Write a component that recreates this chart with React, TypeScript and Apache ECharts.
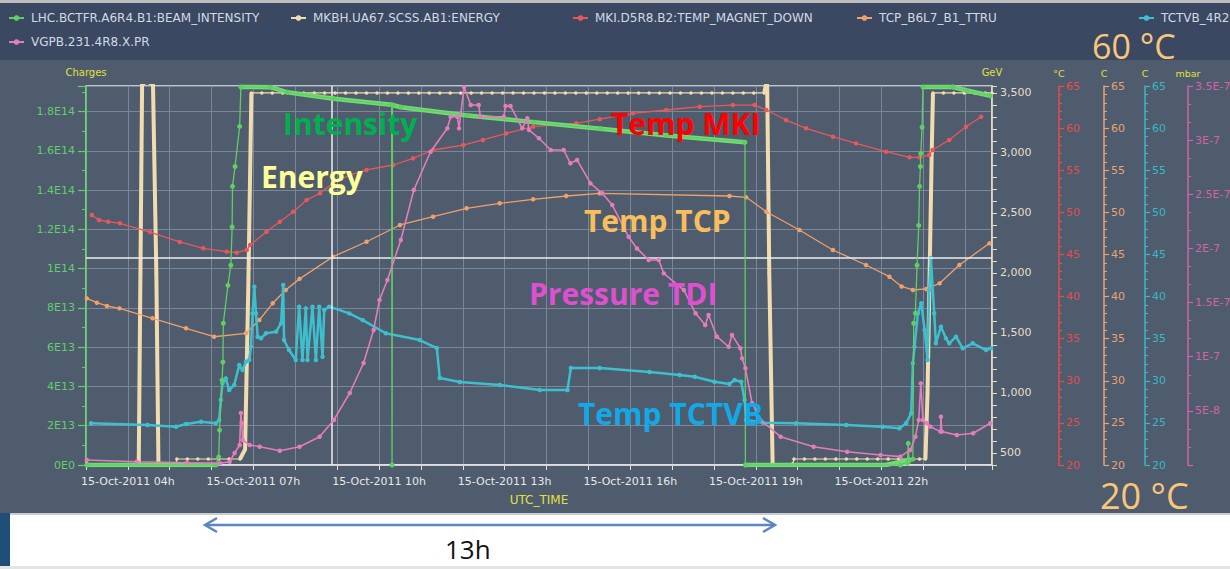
import React, { useEffect, useRef } from 'react';
import * as echarts from 'echarts';

// ---------- tick labels ----------
const timeTickHours = [4, 7, 10, 13, 16, 19, 22];
const timeTickLabels = ['15-Oct-2011 04h', '15-Oct-2011 07h', '15-Oct-2011 10h', '15-Oct-2011 13h', '15-Oct-2011 16h', '15-Oct-2011 19h', '15-Oct-2011 22h'];
const chargeTickLabels = ['0E0', '2E13', '4E13', '6E13', '8E13', '1E14', '1.2E14', '1.4E14', '1.6E14', '1.8E14'];
const energyTickLabels = ['500', '1,000', '1,500', '2,000', '2,500', '3,000', '3,500'];
const tempTickLabels = ['20', '25', '30', '35', '40', '45', '50', '55', '60', '65'];
const pressureTickLabels = ['', '5E-8', '1E-7', '1.5E-7', '2E-7', '2.5E-7', '3E-7', '3.5E-7'];

// ---------- series names ----------
const nameIntensity = 'LHC.BCTFR.A6R4.B1:BEAM_INTENSITY';
const nameEnergy = 'MKBH.UA67.SCSS.AB1:ENERGY';
const nameMki = 'MKI.D5R8.B2:TEMP_MAGNET_DOWN';
const nameTcp = 'TCP_B6L7_B1_TTRU';
const nameTctvb = 'TCTVB_4R2';
const namePressure = 'VGPB.231.4R8.X.PR';

// ---------- data: [hour of 15-Oct-2011 UTC, value] ----------
const intensityData = [
  [3.02, 0], [6.10, 0], [6.17, 4.1e12], [6.19, 1.78e13], [6.25, 4.32e13], [6.27, 5.24e13], [6.28, 7.22e13],
  [6.39, 9.15e13], [6.46, 1.017e14], [6.49, 1.212e14], [6.50, 1.419e14], [6.56, 1.52e14], [6.67, 1.724e14],
  [6.70, 1.925e14], [7.41, 1.924e14], [7.81, 1.898e14], [8.92, 1.865e14], [10.30, 1.834e14], [10.31, 0],
  [10.32, 1.833e14], [10.52, 1.822e14], [12.11, 1.78e14], [13.69, 1.746e14], [15.29, 1.712e14],
  [16.88, 1.678e14], [18.74, 1.644e14], [18.75, 0], [22.45, 0], [22.62, 1e12], [22.64, 1.1e13], [22.66, 2e12],
  [22.75, 3e12], [22.77, 7.22e13], [22.81, 7.73e13], [22.85, 1.017e14], [22.89, 1.22e14], [22.91, 1.419e14],
  [22.93, 1.52e14], [22.94, 1.587e14], [22.97, 1.72e14], [22.99, 1.925e14], [23.71, 1.925e14],
  [24.04, 1.907e14], [24.60, 1.88e14],
];
const intensityBandData = [
  [3.02, 0], [6.10, 0], ['-', '-'],
  [6.70, 1.925e14], [7.41, 1.924e14], [7.81, 1.898e14], [8.92, 1.865e14], [10.30, 1.834e14], [10.32, 1.833e14],
  [10.52, 1.822e14], [12.11, 1.78e14], [13.69, 1.746e14], [15.29, 1.712e14], [16.88, 1.678e14], [18.74, 1.644e14],
  ['-', '-'],
  [18.75, 0], [22.10, 0], [22.55, 2e12], [22.66, 2.5e12], ['-', '-'],
  [22.99, 1.925e14], [23.71, 1.925e14], [24.04, 1.907e14], [24.60, 1.88e14],
];

const energyData = [
  [3.02, 410], [4.26, 410], [4.30, 2000], [4.34, 3570], [4.45, 3600], [4.60, 3570], [4.68, 2000], [4.73, 410],
  [5.15, 410], [5.17, 450], [5.42, 450], [5.67, 450], [5.92, 450], [6.17, 450], [6.42, 450], [6.68, 450],
  [6.80, 530], [6.88, 1950], [6.95, 3500],
  [7.20, 3500], [7.45, 3500], [7.70, 3500], [7.95, 3500], [8.20, 3500], [8.45, 3500], [8.70, 3500], [8.95, 3500],
  [9.20, 3500], [9.45, 3500], [9.70, 3500], [9.95, 3500], [10.20, 3500], [10.45, 3500], [10.70, 3500], [10.95, 3500],
  [11.20, 3500], [11.45, 3500], [11.70, 3500], [11.95, 3500], [12.20, 3500], [12.45, 3500], [12.70, 3500], [12.95, 3500],
  [13.20, 3500], [13.45, 3500], [13.70, 3500], [13.95, 3500], [14.20, 3500], [14.45, 3500], [14.70, 3500], [14.95, 3500],
  [15.20, 3500], [15.45, 3500], [15.70, 3500], [15.95, 3500], [16.20, 3500], [16.45, 3500], [16.70, 3500], [16.95, 3500],
  [17.20, 3500], [17.45, 3500], [17.70, 3500], [17.95, 3500], [18.20, 3500], [18.45, 3500], [18.70, 3500], [18.95, 3500],
  [19.20, 3500], [19.24, 3570], [19.27, 3570], [19.32, 2000], [19.40, 410], [19.88, 410], [19.91, 450],
  [20.16, 450], [20.41, 450], [20.66, 450], [20.91, 450], [21.16, 450], [21.41, 450], [21.66, 450], [21.91, 450],
  [22.16, 450], [22.41, 450], [22.66, 450], [22.91, 450], [23.05, 450], [23.10, 1000], [23.15, 2000], [23.20, 3000],
  [23.23, 3500], [23.48, 3500], [23.73, 3500], [23.98, 3500], [24.23, 3500], [24.48, 3500], [24.64, 3500],
];
const energyRampData = [
  [4.26, 410], [4.30, 2000], [4.34, 3570], [4.45, 3600], [4.60, 3570], [4.68, 2000], [4.73, 410], ['-', '-'],
  [6.68, 450], [6.80, 530], [6.88, 1950], [6.95, 3500], ['-', '-'],
  [19.20, 3500], [19.24, 3570], [19.27, 3570], [19.32, 2000], [19.40, 410], ['-', '-'],
  [23.05, 450], [23.10, 1000], [23.15, 2000], [23.20, 3000], [23.23, 3500],
];

const mkiTempData = [
  [3.14, 49.68], [3.31, 49.09], [3.53, 48.89], [3.81, 48.70], [4.53, 47.66], [5.24, 46.48], [5.80, 45.73],
  [6.36, 45.33], [6.60, 45.21], [6.84, 45.53], [6.92, 46.12], [7.31, 47.70], [7.63, 48.89], [7.95, 50.07],
  [8.27, 51.46], [8.59, 52.26], [8.90, 53.45], [9.30, 54.43], [9.70, 55.03], [10.34, 55.62], [10.81, 56.41],
  [11.29, 57.40], [12.01, 57.99], [12.48, 58.59], [13.04, 59.38], [13.68, 60.17], [14.71, 60.57], [15.27, 61.06],
  [16.06, 61.76], [16.86, 62.15], [17.66, 62.54], [18.45, 62.74], [18.97, 62.74], [19.25, 62.15], [19.72, 60.96],
  [20.20, 59.98], [20.84, 58.98], [21.39, 58.19], [22.11, 57.20], [22.67, 56.53], [22.91, 56.53], [23.14, 56.80],
  [23.22, 57.40], [23.62, 58.59], [24.02, 60.17], [24.38, 61.35],
];

const tcpTempData = [
  [3.02, 39.79], [3.26, 39.27], [3.50, 38.88], [3.80, 38.60], [4.59, 37.42], [5.39, 36.23], [6.06, 35.23],
  [6.82, 35.64], [7.14, 37.22], [7.46, 39.20], [7.77, 40.78], [8.10, 42.10], [8.90, 44.73], [9.70, 46.51],
  [10.50, 48.50], [11.29, 49.48], [12.09, 50.48], [12.88, 51.07], [13.68, 51.55], [14.47, 51.94], [15.27, 52.26],
  [18.37, 51.94], [18.77, 51.78], [19.25, 50.07], [20.04, 47.90], [20.84, 45.53], [21.63, 43.75], [22.19, 42.36],
  [22.48, 41.20], [22.75, 40.78], [23.07, 40.90], [23.39, 41.57], [23.86, 43.75], [24.58, 46.32],
];

const tctvbTempData = [
  [3.12, 24.95], [4.47, 24.75], [5.15, 24.55], [5.39, 24.87], [5.75, 25.14], [6.10, 24.95], [6.18, 25.34],
  [6.22, 27.72], [6.26, 29.70], [6.34, 30.29], [6.42, 28.90], [6.54, 29.50], [6.66, 31.87], [6.74, 31.28],
  [6.82, 32.27], [6.90, 32.47], [6.94, 34.05], [6.98, 38.00], [7.02, 41.17], [7.06, 38.00], [7.10, 35.23],
  [7.18, 35.04], [7.30, 35.64], [7.54, 35.83], [7.66, 36.82], [7.71, 41.37], [7.73, 34.84], [7.85, 33.65],
  [8.01, 32.47], [8.09, 38.80], [8.17, 32.47], [8.25, 38.60], [8.29, 32.47], [8.41, 38.80], [8.49, 32.47],
  [8.57, 38.80], [8.65, 32.86], [8.69, 38.40], [8.81, 38.80], [9.29, 38.00], [9.61, 37.20], [10.16, 35.64],
  [10.97, 34.84], [11.38, 33.89], [11.45, 30.33], [11.93, 29.85], [12.88, 29.50], [13.84, 28.90], [14.50, 28.90],
  [14.58, 31.52], [15.27, 31.52], [16.46, 31.04], [17.18, 30.69], [17.54, 30.48], [18.01, 29.89], [18.37, 29.62],
  [18.49, 30.09], [18.65, 29.89], [18.73, 27.72], [18.77, 25.34], [19.17, 25.02], [19.96, 24.95], [21.16, 24.75],
  [22.03, 24.55], [22.43, 24.36], [22.59, 24.95], [22.71, 26.14], [22.75, 32.07], [22.79, 34.05], [22.87, 38.00],
  [22.95, 39.20], [23.03, 36.03], [23.10, 32.47], [23.14, 40.78], [23.18, 44.58], [23.26, 38.00], [23.30, 34.45],
  [23.42, 36.42], [23.54, 35.04], [23.62, 34.45], [23.78, 35.23], [23.94, 33.86], [24.18, 34.45], [24.50, 33.65],
  [24.62, 33.86],
];

const pressureData = [
  [3.02, 4.6e-9], [4.21, 3.0e-9], [5.41, 2.1e-9], [6.20, 1.6e-9], [6.43, 3.0e-9], [6.55, 1.11e-8], [6.67, 1.85e-8],
  [6.70, 4.8e-8], [6.72, 3.88e-8], [6.74, 2.31e-8], [6.91, 1.85e-8], [7.15, 1.69e-8], [7.63, 1.32e-8],
  [8.10, 1.69e-8], [8.58, 2.61e-8], [8.92, 4.16e-8], [9.30, 6.65e-8], [9.63, 9.42e-8], [9.87, 1.247e-7],
  [10.01, 1.524e-7], [10.20, 1.708e-7], [10.52, 2.078e-7], [10.83, 2.54e-7], [11.23, 2.893e-7], [11.63, 3.109e-7],
  [11.71, 3.216e-7], [11.87, 3.216e-7], [11.91, 3.109e-7], [12.03, 3.49e-7], [12.19, 3.325e-7], [12.38, 3.325e-7],
  [12.42, 3.216e-7], [12.98, 3.216e-7], [13.02, 3.315e-7], [13.14, 3.315e-7], [13.42, 3.109e-7], [13.54, 3.202e-7],
  [13.58, 3.094e-7], [13.82, 3.017e-7], [14.10, 2.909e-7], [14.41, 2.909e-7], [14.57, 2.786e-7], [14.73, 2.817e-7],
  [15.05, 2.601e-7], [15.33, 2.509e-7], [15.57, 2.401e-7], [15.96, 2.107e-7], [16.16, 2.0e-7], [16.44, 1.893e-7],
  [16.68, 1.893e-7], [16.80, 1.77e-7], [17.28, 1.616e-7], [17.56, 1.401e-7], [17.79, 1.293e-7], [17.87, 1.385e-7],
  [18.07, 1.185e-7], [18.35, 1.092e-7], [18.43, 1.201e-7], [18.63, 1.078e-7], [18.67, 9.85e-8], [18.75, 8.93e-8],
  [18.91, 5.72e-8], [19.11, 4.16e-8], [19.59, 2.61e-8], [20.38, 1.69e-8], [21.18, 1.23e-8], [21.98, 9.2e-9],
  [22.45, 7.7e-9], [22.69, 1.39e-8], [22.81, 2.61e-8], [22.89, 4.16e-8], [22.94, 7.54e-8], [22.99, 4.16e-8],
  [23.09, 3.85e-8], [23.17, 3.54e-8], [23.41, 3.08e-8], [23.42, 4.46e-8], [23.44, 3.08e-8], [23.80, 2.77e-8],
  [24.19, 2.93e-8], [24.60, 3.85e-8],
];

// crosshair cursor position
const cursorHour = 8.86;
const cursorCharge = 1.054e14;

const AXIS_FONT = 'DejaVu Sans';
const ANNO_FONT = 'Open Sans';

function timeFmt(v: number) {
  const r = Math.round(v);
  if (Math.abs(v - r) > 0.01) return '';
  const i = timeTickHours.indexOf(r);
  return i >= 0 ? timeTickLabels[i] : '';
}
function chargeFmt(v: number) {
  const i = Math.round(v / 2e13);
  if (Math.abs(v - i * 2e13) > 1e11) return '';
  return chargeTickLabels[i] ?? '';
}
function energyFmt(v: number) {
  const r = Math.round(v);
  if (r % 500 !== 0) return '';
  return energyTickLabels[r / 500 - 1] ?? '';
}
function tempFmt(v: number) {
  const i = Math.round((v - 20) / 5);
  if (Math.abs(v - (20 + 5 * i)) > 0.01) return '';
  return tempTickLabels[i] ?? '';
}
function pressureFmt(v: number) {
  const i = Math.round(v / 5e-8);
  if (Math.abs(v - i * 5e-8) > 1e-10) return '';
  return pressureTickLabels[i] ?? '';
}

function tempAxis(offset: number, color: string, name: string, min: number, max: number, interval: number, split: number, fmt: (v: number) => string) {
  return {
    type: 'value',
    position: 'right',
    offset,
    min,
    max,
    interval,
    name,
    nameLocation: 'end',
    nameGap: 8,
    nameTextStyle: { color: '#e2e040', fontSize: 9.5, fontFamily: AXIS_FONT, align: 'center' },
    axisLine: { show: true, onZero: false, lineStyle: { color, width: 1.5 } },
    axisTick: { show: true, inside: false, length: 5, lineStyle: { color, width: 1.2 } },
    minorTick: { show: true, splitNumber: split, length: 3, lineStyle: { color, width: 1 } },
    axisLabel: { color, fontSize: 11, fontFamily: AXIS_FONT, margin: 7, formatter: fmt, showMinLabel: true, showMaxLabel: true },
    splitLine: { show: false },
    minorSplitLine: { show: false },
  };
}

function lineSeries(name: string, data: any[], yAxisIndex: number, color: string, width: number, symbolSize: number, z: number) {
  return {
    name,
    type: 'line',
    data,
    yAxisIndex,
    symbol: symbolSize > 0 ? 'circle' : 'none',
    showSymbol: symbolSize > 0,
    symbolSize,
    lineStyle: { color, width },
    itemStyle: { color },
    emphasis: { disabled: true },
    silent: true,
    clip: true,
    z,
  };
}

const legendPlaces = [
  { name: nameIntensity, left: 8, top: 12 },
  { name: nameEnergy, left: 290, top: 12 },
  { name: nameMki, left: 572, top: 12 },
  { name: nameTcp, left: 856, top: 12 },
  { name: nameTctvb, left: 1138, top: 12 },
  { name: namePressure, left: 8, top: 36 },
];

function annotation(text: string, x: number, y: number, color: string, size: number, weight: string) {
  return {
    type: 'text',
    x,
    y,
    z: 100,
    silent: true,
    style: {
      text,
      fill: color,
      fontSize: size,
      fontWeight: weight,
      fontFamily: ANNO_FONT,
      align: 'left',
      verticalAlign: 'middle',
      textAlign: 'left',
      textVerticalAlign: 'middle',
    },
  };
}

export default function App() {
  const ref = useRef<HTMLDivElement>(null);

  useEffect(() => {
    document.body.style.margin = '0';
    if (!ref.current) return;
    const chart = echarts.init(ref.current, undefined, { renderer: 'svg' });

    const option: any = {
      animation: false,
      backgroundColor: '#ffffff',
      textStyle: { fontFamily: AXIS_FONT },
      graphic: [
        { type: 'rect', z: -100, silent: true, shape: { x: 0, y: 0, width: 1230, height: 3 }, style: { fill: '#bdbdbd' } },
        { type: 'rect', z: -100, silent: true, shape: { x: 0, y: 3, width: 1230, height: 57 }, style: { fill: '#3a4862' } },
        { type: 'rect', z: -100, silent: true, shape: { x: 0, y: 60, width: 1230, height: 453 }, style: { fill: '#4e5c6e' } },
        { type: 'rect', z: -100, silent: true, shape: { x: 0, y: 513, width: 1230, height: 2 }, style: { fill: '#c9cdd3' } },
        { type: 'rect', z: -100, silent: true, shape: { x: 0, y: 513, width: 10, height: 56 }, style: { fill: '#1f4e79' } },
        { type: 'rect', z: -100, silent: true, shape: { x: 0, y: 566, width: 1230, height: 3 }, style: { fill: '#e4e4e4' } },
        annotation('Intensity', 283, 123, '#00b050', 30, 'bold'),
        annotation('Energy', 261, 176, '#ffff99', 30, 'bold'),
        annotation('Temp MKI', 611, 123, '#ff0000', 30, 'bold'),
        annotation('Temp TCP', 584, 220, '#f8be5c', 30, 'bold'),
        annotation('Pressure TDI', 529, 293, '#df50d0', 30, 'bold'),
        annotation('Temp TCTVB', 578, 413, '#12a9e8', 30, 'bold'),
        annotation('60 °C', 1092, 46, '#f9c67a', 34, 'normal'),
        annotation('20 °C', 1100, 495, '#f9c67a', 36, 'normal'),
        annotation('13h', 445, 549, '#111111', 26, 'normal'),
        { type: 'line', z: 100, silent: true, shape: { x1: 206, y1: 525, x2: 774, y2: 525 }, style: { stroke: '#5a86c2', lineWidth: 2.5 } },
        { type: 'polyline', z: 100, silent: true, shape: { points: [[217, 518], [205, 525], [217, 532]] }, style: { stroke: '#5a86c2', lineWidth: 2.5, fill: 'none' } },
        { type: 'polyline', z: 100, silent: true, shape: { points: [[763, 518], [775, 525], [763, 532]] }, style: { stroke: '#5a86c2', lineWidth: 2.5, fill: 'none' } },
      ],
      legend: legendPlaces.map((l) => ({
        show: true,
        data: [l.name],
        left: l.left,
        top: l.top,
        orient: 'horizontal',
        itemWidth: 15,
        itemHeight: 7,
        padding: 0,
        selectedMode: false,
        textStyle: { color: '#d3d9e3', fontSize: 12, fontFamily: AXIS_FONT, padding: [0, 0, 0, 2] },
      })),
      grid: {
        left: 86,
        right: 238,
        top: 86,
        bottom: 104,
        show: true,
        borderColor: '#e4e7ec',
        borderWidth: 1.5,
        backgroundColor: 'transparent',
        containLabel: false,
        outerBoundsMode: 'none',
      },
      xAxis: {
        type: 'value',
        min: 3,
        max: 24.64,
        interval: 1,
        name: 'UTC_TIME',
        nameLocation: 'middle',
        nameGap: 29,
        nameTextStyle: { color: '#e2e040', fontSize: 12, fontFamily: AXIS_FONT },
        axisLine: { show: true, onZero: false, lineStyle: { color: '#e8e8e8', width: 1.5 } },
        axisTick: { show: true, length: 5, lineStyle: { color: '#e0e0e0', width: 1 } },
        axisLabel: { color: '#e8e8e8', fontSize: 11, fontFamily: AXIS_FONT, margin: 11, formatter: timeFmt, showMinLabel: true, showMaxLabel: true },
        splitLine: { show: true, lineStyle: { color: '#7d8698', width: 1 } },
      },
      yAxis: [
        {
          type: 'value',
          position: 'left',
          min: 0,
          max: 1.93e14,
          interval: 2e13,
          name: 'Charges',
          nameLocation: 'end',
          nameGap: 9,
          nameTextStyle: { color: '#e2e040', fontSize: 10, fontFamily: AXIS_FONT, align: 'center' },
          axisLine: { show: true, onZero: false, lineStyle: { color: '#5fcf68', width: 1.5 } },
          axisTick: { show: true, length: 8, lineStyle: { color: '#5fcf68', width: 1.2 } },
          minorTick: { show: true, splitNumber: 2, length: 4, lineStyle: { color: '#5fcf68', width: 1 } },
          axisLabel: { color: '#63cd6b', fontSize: 11, fontFamily: AXIS_FONT, margin: 11, formatter: chargeFmt, showMinLabel: true, showMaxLabel: true },
          splitLine: { show: true, lineStyle: { color: '#7d8698', width: 1 } },
        },
        {
          type: 'value',
          position: 'right',
          offset: 0,
          min: 400,
          max: 3558,
          interval: 100,
          name: 'GeV',
          nameLocation: 'end',
          nameGap: 9,
          nameTextStyle: { color: '#e2e040', fontSize: 10, fontFamily: AXIS_FONT, align: 'center' },
          axisLine: { show: true, onZero: false, lineStyle: { color: '#e6dcc0', width: 1.5 } },
          axisTick: { show: true, length: 5, lineStyle: { color: '#e6dcc0', width: 1 } },
          axisLabel: { color: '#e8dfc6', fontSize: 11, fontFamily: AXIS_FONT, margin: 8, formatter: energyFmt, showMinLabel: true, showMaxLabel: true },
          splitLine: { show: false },
        },
        tempAxis(67, '#e24d4f', '°C', 20, 65, 5, 5, tempFmt),
        tempAxis(112, '#e9a272', 'C', 20, 65, 5, 5, tempFmt),
        tempAxis(153, '#3bb7c6', 'C', 20, 65, 5, 5, tempFmt),
        tempAxis(196, '#d462a8', 'mbar', 0, 3.5e-7, 5e-8, 3, pressureFmt),
      ],
      series: [
        lineSeries(nameEnergy, energyData, 1, '#f2dcae', 1.2, 3.5, 2),
        lineSeries('energyRamps', energyRampData, 1, '#f2dcae', 4, 0, 2),
        lineSeries(nameTcp, tcpTempData, 3, '#f0a06a', 1.3, 4.5, 3),
        lineSeries(nameMki, mkiTempData, 2, '#e8585a', 1.3, 4.5, 3),
        lineSeries(nameTctvb, tctvbTempData, 4, '#3ebfce', 2.5, 4.5, 4),
        lineSeries('intensityBand', intensityBandData, 0, '#72dc72', 4.5, 0, 5),
        {
          ...lineSeries(nameIntensity, intensityData, 0, '#5fcf64', 1.3, 5, 5),
          markLine: {
            silent: true,
            symbol: ['none', 'none'],
            label: { show: false },
            lineStyle: { color: '#eeeeee', width: 1.5, type: 'solid' },
            emphasis: { disabled: true },
            data: [{ xAxis: cursorHour }, { yAxis: cursorCharge }],
          },
        },
        lineSeries(namePressure, pressureData, 5, '#e57cbb', 1.6, 4.5, 6),
      ],
    };

    chart.setOption(option);
    return () => chart.dispose();
  }, []);

  return (
    <div
      ref={ref}
      style={{ position: 'fixed', left: 0, top: 0, width: 1230, height: 569, overflow: 'hidden' }}
    />
  );
}
